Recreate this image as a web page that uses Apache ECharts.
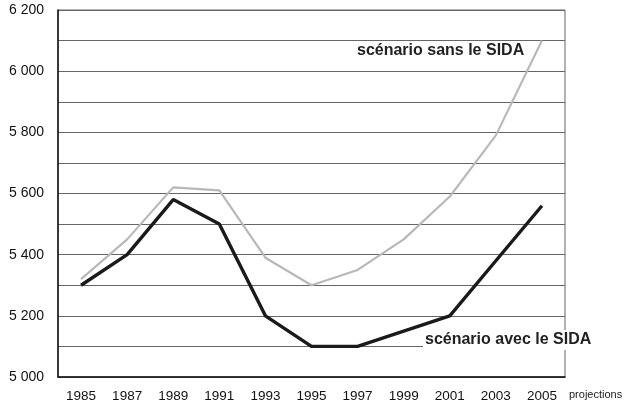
<!DOCTYPE html>
<html><head><meta charset="utf-8">
<script src="https://cdn.jsdelivr.net/npm/echarts@6/dist/echarts.min.js"></script>
<style>html,body{margin:0;padding:0;background:#fff}#c{width:627px;height:408px}</style>
</head><body><div id="c"></div>
<script>
const years = ['1985','1987','1989','1991','1993','1995','1997','1999','2001','2003','2005'];
const sansSida = [5320, 5450, 5620, 5610, 5390, 5300, 5350, 5450, 5590, 5790, 6100];
const avecSida = [5300, 5400, 5580, 5500, 5200, 5100, 5100, 5150, 5200, 5380, 5560];
const labelSans = 'scénario sans le SIDA';
const labelAvec = 'scénario avec le SIDA';
const xUnit = 'projections';

const chart = echarts.init(document.getElementById('c'));
const font = 'Liberation Sans, Arial, sans-serif';
chart.setOption({
  animation: false,
  grid: {left: 58, top: 10, right: 62, bottom: 31, show: true, borderColor: '#666', borderWidth: 1,
         outerBoundsMode: 'none', containLabel: false},
  xAxis: {
    type: 'category', data: years, boundaryGap: true,
    axisLine: {lineStyle: {color: '#111', width: 1.5}},
    axisTick: {inside: true, alignWithLabel: true, length: 8, lineStyle: {color: '#111', width: 1.5}},
    axisLabel: {color: '#111', fontFamily: font, fontSize: 13.5, margin: 12},
    splitLine: {show: false}
  },
  yAxis: {
    type: 'value', min: 5000, max: 6200, interval: 100,
    axisLine: {show: true, lineStyle: {color: '#111', width: 1.5}},
    axisTick: {show: false},
    axisLabel: {color: '#111', fontFamily: font, fontSize: 14, margin: 14,
      formatter: v => (v % 200 === 0) ? String(v).replace(/(\d)(\d{3})$/, '$1 $2') : ''},
    splitLine: {lineStyle: {color: '#666', width: 1}}
  },
  series: [
    {type: 'line', data: sansSida, symbol: 'none', z: 3,
     lineStyle: {color: '#b8b8b8', width: 2.2}},
    {type: 'line', data: avecSida, symbol: 'none', z: 4,
     lineStyle: {color: '#1a1a1a', width: 3.4}}
  ],
  graphic: [
    {type: 'text', left: 357, top: 43, z: 10,
     style: {text: labelSans, font: 'bold 16px ' + font, fill: '#222', backgroundColor: '#fff'}},
    {type: 'text', left: 423, top: 330, z: 10,
     style: {text: labelAvec, font: 'bold 16px ' + font, fill: '#222', backgroundColor: '#fff', padding: [2, 2]}},
    {type: 'text', left: 569, top: 389, z: 10,
     style: {text: xUnit, font: '11px ' + font, fill: '#222'}}
  ]
});
</script></body></html>
